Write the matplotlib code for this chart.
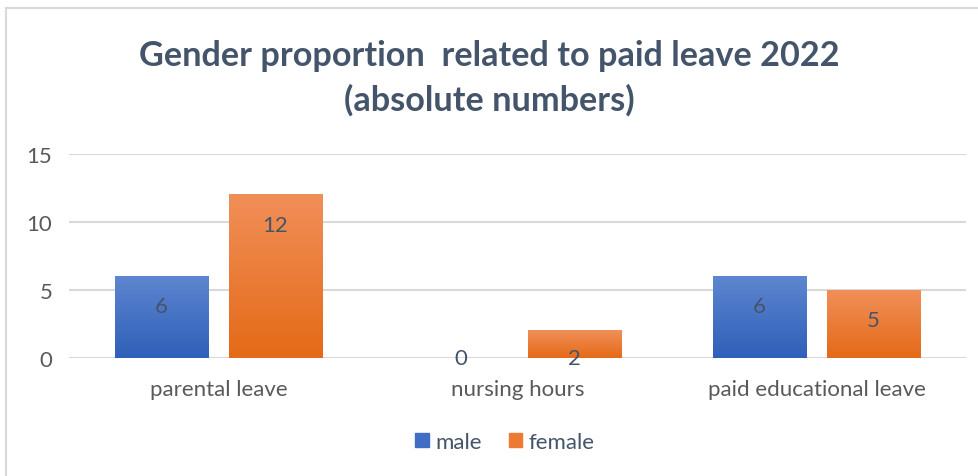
import matplotlib.pyplot as plt
import numpy as np
from matplotlib.colors import LinearSegmentedColormap
from matplotlib.patches import Rectangle

categories = ['parental leave', 'nursing hours', 'paid educational leave']
male = [6, 0, 6]
female = [12, 2, 5]
series_names = ['male', 'female']
yticks = [0, 5, 10, 15]

title = 'Gender proportion  related to paid leave 2022\n(absolute numbers)'
text_color = '#44546A'
grid_color = '#D9D9D9'

# gradient colours (top, bottom) for each series
blue_grad = LinearSegmentedColormap.from_list('blue', ['#2F5FB8', '#5E86D0'])
orange_grad = LinearSegmentedColormap.from_list('orange', ['#E46A17', '#F18F59'])


def gradient_bar(ax, x, w, h, cmap):
    if h <= 0:
        return
    grad = np.linspace(0, 1, 256).reshape(-1, 1)
    ax.imshow(grad, cmap=cmap, origin='lower', aspect='auto',
              extent=(x - w / 2, x + w / 2, 0, h), zorder=2)


def add_label(ax, x, v):
    y = max(v - 2.2, 0)
    ax.text(x, y, str(v), ha='center', va='center', fontsize=16,
            color=text_color, zorder=4)


plt.rcParams['font.family'] = ['Lato', 'DejaVu Sans']

fig = plt.figure(figsize=(9.79, 4.77), dpi=100)
ax = fig.add_axes([69 / 979, 1 - 359 / 477, (966 - 69) / 979, (359 - 155) / 477])

x = np.arange(len(categories))
w = 0.312
off = 0.19
for i in range(len(categories)):
    gradient_bar(ax, x[i] - off, w, male[i], blue_grad)
    gradient_bar(ax, x[i] + off, w, female[i], orange_grad)
    add_label(ax, x[i] - off, male[i])
    add_label(ax, x[i] + off, female[i])

ax.set_xlim(-0.5, len(categories) - 0.5)
ax.set_ylim(0, 15)
ax.set_yticks(yticks)
ax.set_xticks(x)
ax.set_xticklabels(categories)
ax.tick_params(axis='both', length=0, labelsize=16, colors='#595959')
ax.tick_params(axis='y', pad=12)
ax.tick_params(axis='x', pad=15)
ax.yaxis.grid(True, color=grid_color, lw=1.5, zorder=1)
ax.set_axisbelow(True)
for s in ax.spines.values():
    s.set_visible(False)

fig.text(0.5, 1 - 78 / 477, title, ha='center', va='center', fontsize=24.7,
         fontweight='bold', color=text_color, linespacing=1.45)

# legend
handles = [Rectangle((0, 0), 1, 1, color='#3F6EC4'),
           Rectangle((0, 0), 1, 1, color='#EC7A33')]
leg = fig.legend(handles, series_names, loc='center', bbox_to_anchor=(505 / 979, 1 - 443 / 477),
                 ncol=2, frameon=False, fontsize=16, handlelength=0.6, handleheight=0.6,
                 handletextpad=0.3, columnspacing=1.2)
for t in leg.get_texts():
    t.set_color(text_color)

# chart border (partially visible)
fig.add_artist(plt.Line2D([6 / 979, 6 / 979], [0, 1 - 9 / 477], color=grid_color, lw=1.5))
fig.add_artist(plt.Line2D([6 / 979, 1], [1 - 9 / 477, 1 - 9 / 477], color=grid_color, lw=1.5))

fig.savefig('out.png', dpi=100)
